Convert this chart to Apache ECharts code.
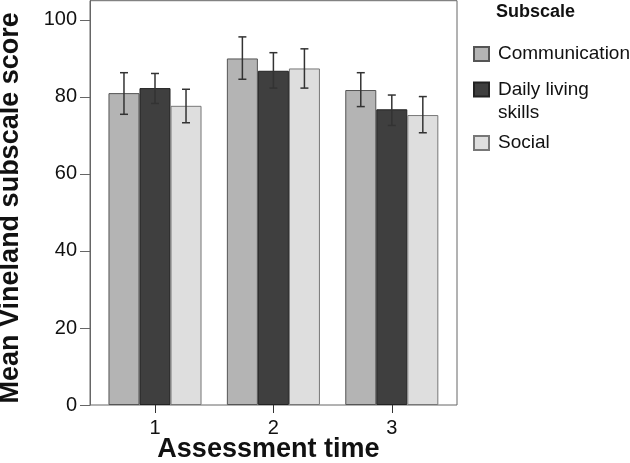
<!DOCTYPE html>
<html>
<head>
<meta charset="utf-8">
<script src="https://cdn.jsdelivr.net/npm/echarts@6/dist/echarts.min.js"></script>
<style>
html,body{margin:0;padding:0;background:#fff;}
#chart{width:630px;height:463px;}
</style>
</head>
<body>
<div id="chart"></div>
<script>
var categories = ['1', '2', '3'];
var seriesNames = ['Communication', 'Daily living skills', 'Social'];
var communication = [81.0, 90.0, 81.8];
var dailyLiving = [82.3, 86.8, 76.8];
var social = [77.7, 87.4, 75.3];
var communicationCI = [[75.5, 86.3], [84.6, 95.6], [77.5, 86.3]];
var dailyLivingCI = [[78.3, 86.1], [82.3, 91.5], [72.6, 80.5]];
var socialCI = [[73.3, 82.0], [82.3, 92.5], [70.7, 80.1]];
var yTicks = [0, 20, 40, 60, 80, 100];

var FONT = '"Liberation Sans", Arial, sans-serif';
var colors = ['#b4b4b4', '#3f3f3f', '#dedede'];
var borders = ['#555', '#222', '#777'];
var BAR_FRAC = 0.262;

var values = [communication, dailyLiving, social];
var cis = [communicationCI, dailyLivingCI, socialCI];

var chart = echarts.init(document.getElementById('chart'), null, {renderer: 'canvas'});

var series = [];
values.forEach(function (vals, i) {
  series.push({
    name: seriesNames[i],
    type: 'bar',
    xAxisIndex: 1,
    yAxisIndex: 1,
    data: vals,
    barWidth: (BAR_FRAC * 100) + '%',
    barGap: '0%',
    itemStyle: {color: colors[i], borderColor: borders[i], borderWidth: 1},
    emphasis: {disabled: true}
  });
});
cis.forEach(function (ci, i) {
  series.push({
    type: 'custom',
    xAxisIndex: 1,
    yAxisIndex: 1,
    z: 5,
    data: ci.map(function (d, k) { return [k, d[0], d[1]]; }),
    renderItem: function (params, api) {
      var band = api.size([1, 0])[0];
      var off = (i - 1) * band * BAR_FRAC;
      var lo = api.coord([api.value(0), api.value(1)]);
      var hi = api.coord([api.value(0), api.value(2)]);
      var x = lo[0] + off;
      var cap = 4;
      var st = {stroke: '#333', lineWidth: 1.5};
      return {
        type: 'group',
        children: [
          {type: 'line', shape: {x1: x, y1: lo[1], x2: x, y2: hi[1]}, style: st},
          {type: 'line', shape: {x1: x - cap, y1: lo[1], x2: x + cap, y2: lo[1]}, style: st},
          {type: 'line', shape: {x1: x - cap, y1: hi[1], x2: x + cap, y2: hi[1]}, style: st}
        ]
      };
    }
  });
});

function legendFor(name, top) {
  return {
    data: [name],
    left: 473,
    top: top,
    padding: 0,
    orient: 'vertical',
    icon: 'rect',
    itemWidth: 15,
    itemHeight: 14,
    selectedMode: false,
    formatter: function (n) { return n === 'Daily living skills' ? ' \nDaily living\nskills' : n; },
    textStyle: {fontFamily: FONT, fontSize: 19, color: '#111', lineHeight: 23, padding: [0, 0, 0, 4]}
  };
}

var option = {
  animation: false,
  backgroundColor: '#fff',
  title: {
    text: 'Subscale',
    left: 496,
    top: 3,
    padding: 0,
    textStyle: {fontFamily: FONT, fontSize: 18, fontWeight: 'bold', color: '#111'}
  },
  legend: [
    legendFor('Communication', 42.5),
    legendFor('Daily living skills', 55),
    legendFor('Social', 131.5)
  ],
  grid: [
    {left: 90, right: 173, top: 0.7, bottom: 58, show: true, borderColor: '#666', borderWidth: 1, backgroundColor: '#fff', containLabel: false, outerBoundsMode: 'none'},
    {left: 95.8, right: 179, top: 0.7, bottom: 58, containLabel: false, outerBoundsMode: 'none'}
  ],
  xAxis: [
    {gridIndex: 0, type: 'value', min: 0, max: 1, show: false},
    {
      gridIndex: 1, type: 'category', data: categories,
      axisLine: {show: false},
      axisTick: {show: true, alignWithLabel: true, length: 8, lineStyle: {color: '#333'}},
      axisLabel: {fontFamily: FONT, fontSize: 20, color: '#111', margin: 13},
      name: 'Assessment time',
      nameLocation: 'middle',
      nameGap: 31,
      nameMoveOverlap: false,
      nameTextStyle: {fontFamily: FONT, fontSize: 27, fontWeight: 'bold', color: '#111', padding: [0, 10, 0, 0]}
    }
  ],
  yAxis: [
    {
      gridIndex: 0, type: 'value', min: 0, max: 105, interval: 20,
      axisLine: {show: true, lineStyle: {color: '#666'}},
      axisTick: {show: true, length: 10, lineStyle: {color: '#666'}, customValues: yTicks},
      axisLabel: {fontFamily: FONT, fontSize: 20, color: '#111', margin: 13, customValues: yTicks},
      splitLine: {show: false},
      name: 'Mean Vineland subscale score',
      nameLocation: 'middle',
      nameRotate: 90,
      nameGap: 66,
      nameMoveOverlap: false,
      nameTextStyle: {fontFamily: FONT, fontSize: 27, fontWeight: 'bold', color: '#111', padding: [0, 10, 0, 0]}
    },
    {gridIndex: 1, type: 'value', min: 0, max: 105, show: false}
  ],
  series: series
};
chart.setOption(option);
</script>
</body>
</html>
